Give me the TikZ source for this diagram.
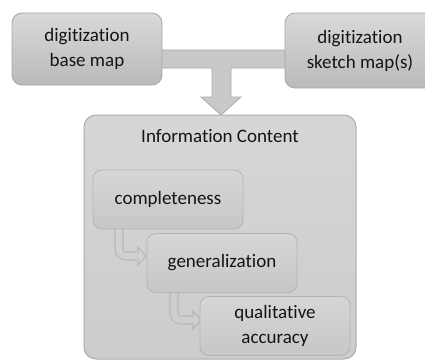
\documentclass[tikz,border=0pt]{standalone}
\usepackage{fontspec}
\setmainfont{Carlito}[Ligatures=CommonOff]
\tikzset{
  x=1pt, y=-1pt,
  txt/.style={font=\fontsize{19}{25}\selectfont, text=black!92, align=center},
  topbox/.style={txt, rounded corners=10pt, draw=black!35, line width=0.8pt,
    top color=black!15, bottom color=black!27, inner sep=0pt},
  bigbox/.style={rounded corners=12pt, draw=black!33, line width=1pt,
    top color=black!16, bottom color=black!20, inner sep=0pt},
  innerbox/.style={txt, rounded corners=9pt, draw=black!29, line width=0.8pt,
    top color=black!16, bottom color=black!22, inner sep=0pt,
    minimum width=150pt, minimum height=59pt},
  tarrow/.style={draw=black!33, line width=0.8pt, fill=black!21},
  bentline/.style={draw=black!28, line width=1.1pt},
  bentarr/.pic={
    \draw[bentline] (0,-3) -- (0,19) .. controls (0,27) and (4,31) .. (12,31)
      -- (23,31) -- (23,36) -- (31,27) -- (23,18) -- (23,23) -- (11,23)
      .. controls (9,23) and (8,22) .. (8,20) -- (8,-3);
  }
}
\begin{document}
\begin{tikzpicture}
\useasboundingbox (0,0) rectangle (425,361);
\begin{scope}
\clip (0,0) rectangle (425,361);
% T-shaped connector
\coordinate (barL) at (150,50);
\coordinate (barR) at (295,50);
\draw[tarrow] (barL) -- (barR) -- (295,68) -- (231,68) -- (231,97) -- (241,97)
  -- (221,115) -- (201,97) -- (212,97) -- (212,68) -- (150,68) -- cycle;
% top boxes
\node[topbox, minimum width=150pt, minimum height=72pt] (b1) at (87,49) {digitization\\base map};
\node[topbox, minimum width=150pt, minimum height=75pt] (b2) at (360,50.5) {digitization\\sketch map(s)};
% big box
\node[bigbox, minimum width=272pt, minimum height=244pt] (ic) at (220,237) {};
\node[txt, anchor=base] (ict) at (220,142) {Information Content};
% bent arrows
\pic at (115,229) {bentarr};
\pic at (170,293) {bentarr};
% inner boxes
\node[innerbox] (c) at (168,199.5) {completeness};
\node[innerbox] (g) at (222,263) {generalization};
\node[innerbox] (q) at (275,326) {qualitative\\accuracy};
\end{scope}
\end{tikzpicture}
\end{document}
